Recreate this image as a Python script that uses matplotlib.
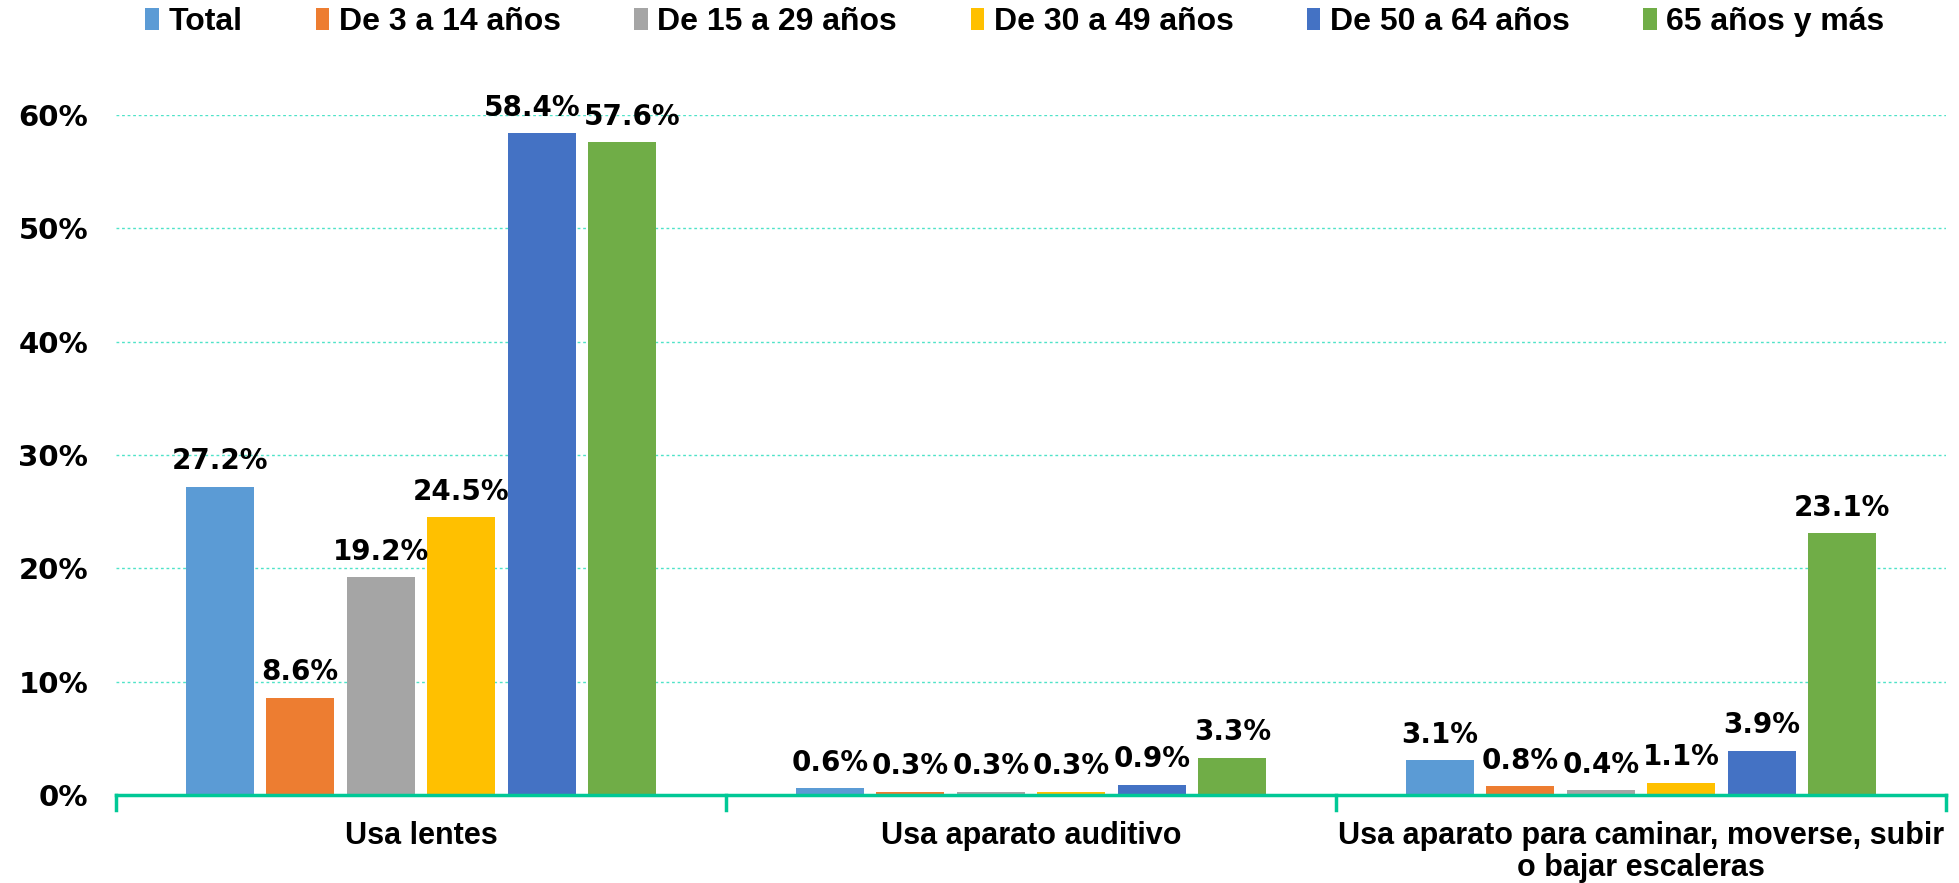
import matplotlib
matplotlib.use("Agg")
import matplotlib.pyplot as plt
from matplotlib.ticker import FuncFormatter
from matplotlib.patches import Patch
import matplotlib.transforms as mtransforms
import numpy as np

categories = ["Usa lentes", "Usa aparato auditivo",
              "Usa aparato para caminar, moverse, subir\no bajar escaleras"]
series_names = ["Total", "De 3 a 14 años", "De 15 a 29 años", "De 30 a 49 años",
                "De 50 a 64 años", "65 años y más"]
total = [27.2, 0.6, 3.1]
age_3_14 = [8.6, 0.3, 0.8]
age_15_29 = [19.2, 0.3, 0.4]
age_30_49 = [24.5, 0.3, 1.1]
age_50_64 = [58.4, 0.9, 3.9]
age_65 = [57.6, 3.3, 23.1]
series_values = [total, age_3_14, age_15_29, age_30_49, age_50_64, age_65]
colors = ["#5B9BD5", "#ED7D31", "#A5A5A5", "#FFC000", "#4472C4", "#70AD47"]
yticks = [0, 10, 20, 30, 40, 50, 60]

narrow = "Liberation Sans"

fig = plt.figure(figsize=(19.59, 8.83), dpi=100)
ax = fig.add_axes([116/1959, 1 - 795/883, (1946-116)/1959, (795-115)/883])

x = np.arange(len(categories))
slot = 0.132
bw = 0.111
labels_by_group = [[] for _ in categories]
for i, (name, vals, c) in enumerate(zip(series_names, series_values, colors)):
    xs = x + (i - 2.5) * slot
    ax.bar(xs, vals, width=bw, color=c, label=name, zorder=3)
    for g, (xi, v) in enumerate(zip(xs, vals)):
        t = ax.text(xi, v + 1.0, f"{v:.1f}%", ha="center", va="bottom",
                    fontsize=20, fontweight="bold", family="DejaVu Sans",
                    clip_on=False, zorder=4)
        labels_by_group[g].append(t)

ax.set_xlim(-0.5, len(categories) - 0.5)
ax.set_ylim(0, 60)
ax.set_yticks(yticks)
ax.yaxis.set_major_formatter(FuncFormatter(lambda v, p: f"{v:.0f}%"))
for lab in ax.get_yticklabels():
    lab.set_fontsize(21)
    lab.set_fontweight("bold")
ax.tick_params(axis="y", length=0, pad=20)
ax.set_xticks([])
for s in ["top", "right", "left"]:
    ax.spines[s].set_visible(False)
ax.spines["bottom"].set_color("#00C896")
ax.spines["bottom"].set_linewidth(2.5)
ax.spines["bottom"].set_zorder(5)

ax.grid(axis="y", color="#4FE3C8", linestyle=(0, (2, 2)), linewidth=1, zorder=0)
for sx in [-0.5, 0.5, 1.5, 2.5]:
    ax.plot([sx, sx], [0, -1.3], color="#00C896", lw=2.5, clip_on=False, zorder=5)

for xi, cat in zip(x, categories):
    ax.text(xi, -2.3, cat, ha="center", va="top", fontsize=22, fontweight="bold",
            family=narrow, linespacing=1.1, transform=ax.transData, clip_on=False)

handles = [Patch(facecolor=c, edgecolor="none") for c in colors]
leg = fig.legend(handles, series_names, loc="center", bbox_to_anchor=(1015/1959, 1 - 22/883),
                 ncol=6, frameon=False, handlelength=0.42, handleheight=0.7, handletextpad=0.3,
                 columnspacing=2.3, prop={"family": narrow, "weight": "bold", "size": 23})

# nudge overlapping adjacent data labels apart horizontally
fig.canvas.draw()
renderer = fig.canvas.get_renderer()
for group in labels_by_group:
    for a, b in zip(group[:-1], group[1:]):
        ea = a.get_window_extent(renderer)
        eb = b.get_window_extent(renderer)
        overlap_x = ea.x1 - eb.x0
        overlap_y = min(ea.y1, eb.y1) - max(ea.y0, eb.y0)
        if overlap_x > 0 and overlap_y > 0 and abs(ea.y0 - eb.y0) < 30:
            shift = (overlap_x + 4) / 2
            a.set_transform(a.get_transform() + mtransforms.Affine2D().translate(-shift, 0))
            b.set_transform(b.get_transform() + mtransforms.Affine2D().translate(shift, 0))

fig.savefig("out.png", dpi=100)
